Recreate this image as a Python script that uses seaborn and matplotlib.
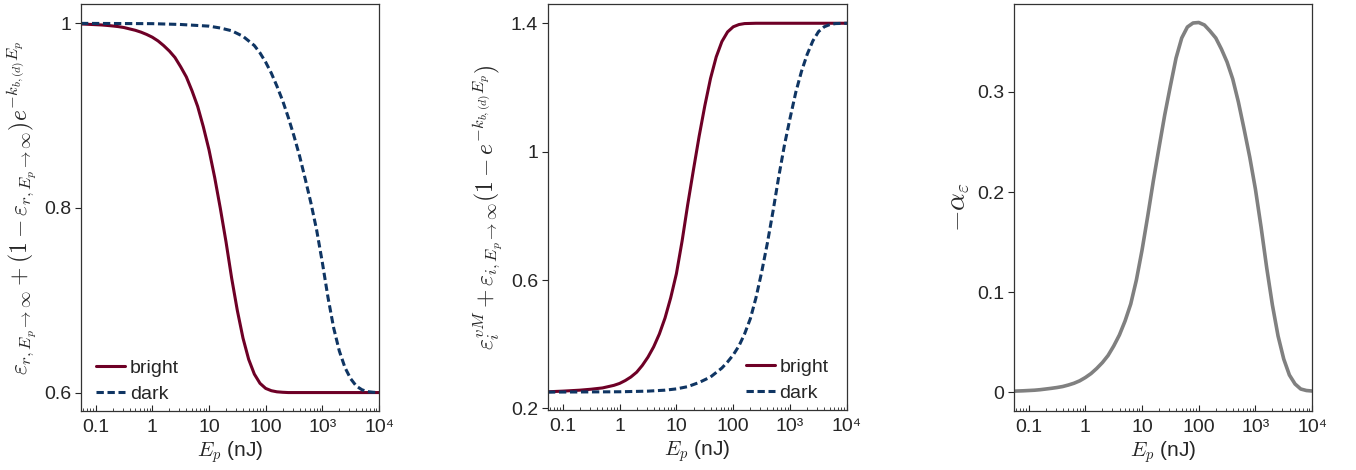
import matplotlib
matplotlib.use("Agg")
import matplotlib.pyplot as plt
import matplotlib.ticker as mticker
import seaborn as sns

sns.set_style("ticks")
plt.rcParams["font.family"] = ["Liberation Sans", "DejaVu Sans"]
plt.rcParams["mathtext.fontset"] = "cm"

# energies (nJ) and values
# left panel: reflectance term
e_r_bright = [0.055, 0.063, 0.079, 0.1, 0.126, 0.158, 0.2, 0.251, 0.316, 0.398, 0.501, 0.631,
              0.794, 1, 1.26, 1.58, 2, 2.51, 3.16, 3.98, 5.01, 6.31, 7.94, 10, 12.6, 15.8, 20,
              25.1, 31.6, 39.8, 50.1, 63.1, 79.4, 100, 126, 158, 200, 251, 10000]
r_bright = [0.9993, 0.9992, 0.9989, 0.9986, 0.9983, 0.9978, 0.9972, 0.9965, 0.9955, 0.994,
            0.9925, 0.9905, 0.988, 0.985, 0.981, 0.976, 0.970, 0.963, 0.953, 0.942, 0.927,
            0.910, 0.888, 0.863, 0.833, 0.800, 0.763, 0.724, 0.689, 0.659, 0.636, 0.620,
            0.610, 0.6045, 0.602, 0.6008, 0.6003, 0.6, 0.6]
e_r_dark = [0.055, 1, 3.16, 10, 15.8, 25.1, 39.8, 63.1, 79.4, 100, 126, 158, 200, 251, 316,
            398, 501, 631, 794, 1000, 1259, 1585, 1995, 2512, 3162, 3981, 5012, 6310, 7943,
            10000]
r_dark = [1.0, 0.9997, 0.9988, 0.997, 0.995, 0.992, 0.986, 0.976, 0.968, 0.958, 0.946, 0.932,
          0.916, 0.898, 0.878, 0.856, 0.831, 0.805, 0.776, 0.741, 0.703, 0.670, 0.645, 0.627,
          0.615, 0.607, 0.603, 0.601, 0.6003, 0.6]

# middle panel: absorption term
e_i_bright = [0.055, 0.1, 0.2, 0.316, 0.501, 0.794, 1, 1.26, 1.58, 2, 2.51, 3.16, 3.98, 5.01,
              6.31, 7.94, 10, 12.6, 15.8, 20, 25.1, 31.6, 39.8, 50.1, 63.1, 79.4, 100, 126,
              158, 251, 10000]
i_bright = [0.252, 0.254, 0.257, 0.26, 0.264, 0.272, 0.278, 0.287, 0.298, 0.313, 0.334, 0.36,
            0.392, 0.432, 0.482, 0.545, 0.62, 0.722, 0.835, 0.945, 1.048, 1.143, 1.228, 1.295,
            1.343, 1.373, 1.389, 1.396, 1.399, 1.4, 1.4]
e_i_dark = [0.055, 1, 3.16, 6.31, 10, 15.8, 25.1, 39.8, 63.1, 79.4, 100, 126, 158, 200, 251,
            316, 398, 501, 631, 794, 1000, 1259, 1585, 1995, 2512, 3162, 3981, 5012, 6310,
            10000]
i_dark = [0.251, 0.252, 0.254, 0.257, 0.261, 0.268, 0.281, 0.298, 0.326, 0.345, 0.367, 0.395,
          0.432, 0.48, 0.545, 0.625, 0.715, 0.815, 0.922, 1.02, 1.105, 1.185, 1.25, 1.303,
          1.345, 1.374, 1.389, 1.396, 1.399, 1.4]

# right panel: -alpha_eps
e_alpha = [0.055, 0.063, 0.079, 0.1, 0.126, 0.158, 0.2, 0.251, 0.316, 0.398, 0.501, 0.631,
           0.794, 1, 1.26, 1.58, 2, 2.51, 3.16, 3.98, 5.01, 6.31, 7.94, 10, 12.6, 15.8, 20,
           25.1, 31.6, 39.8, 50.1, 63.1, 79.4, 100, 126, 158, 200, 251, 316, 398, 501, 631,
           794, 1000, 1259, 1585, 1995, 2512, 3162, 3981, 5012, 6310, 7943, 10000]
neg_alpha = [0.0008, 0.001, 0.0012, 0.0015, 0.0018, 0.0023, 0.003, 0.0037, 0.0045, 0.0055,
             0.007, 0.0088, 0.0112, 0.0145, 0.0185, 0.0235, 0.0295, 0.0365, 0.046, 0.057,
             0.071, 0.088, 0.112, 0.142, 0.176, 0.211, 0.245, 0.277, 0.306, 0.334, 0.354,
             0.365, 0.369, 0.3695, 0.367, 0.361, 0.354, 0.343, 0.33, 0.313, 0.29, 0.263,
             0.235, 0.203, 0.165, 0.124, 0.087, 0.056, 0.033, 0.017, 0.008, 0.003, 0.0015,
             0.001]

x_ticks = [0.1, 1, 10, 100, 1000, 10000]
x_ticklabels = ["0.1", "1", "10", "100", "10\u00b3", "10\u2074"]

c_bright = "#6e0026"
c_dark = "#0f3563"
c_gray = "#808080"
dash = (0, (2.4, 1.2))
fs = 14

fig = plt.figure(figsize=(13.56, 4.70), dpi=100)
ax1 = fig.add_axes([0.0597, 0.1255, 0.2198, 0.866])
ax2 = fig.add_axes([0.4041, 0.1275, 0.2205, 0.864])
ax3 = fig.add_axes([0.7478, 0.1255, 0.2198, 0.866])

leg_kw = dict(frameon=False, fontsize=fs, handlelength=1.5, handletextpad=0.22,
              borderaxespad=0.0, labelspacing=0.45)

sns.lineplot(x=e_r_bright, y=r_bright, ax=ax1, color=c_bright, lw=2.2, label="bright")
sns.lineplot(x=e_r_dark, y=r_dark, ax=ax1, color=c_dark, lw=2.2, linestyle=dash, label="dark")
ax1.set_ylim(0.58, 1.021)
ax1.set_yticks([0.6, 0.8, 1.0])
ax1.set_ylabel(r"$\varepsilon_{r,E_p\to\infty}+(1-\varepsilon_{r,E_p\to\infty})e^{-k_{b,(d)}E_p}$",
               fontsize=17, labelpad=4)
ax1.legend(loc="lower left", bbox_to_anchor=(0.025, 0.0), **leg_kw)

sns.lineplot(x=e_i_bright, y=i_bright, ax=ax2, color=c_bright, lw=2.2, label="bright")
sns.lineplot(x=e_i_dark, y=i_dark, ax=ax2, color=c_dark, lw=2.2, linestyle=dash, label="dark")
ax2.set_ylim(0.195, 1.46)
ax2.set_yticks([0.2, 0.6, 1.0, 1.4])
ax2.set_ylabel(r"$\varepsilon_i^{vM}+\varepsilon_{i,E_p\to\infty}(1-e^{-k_{b,(d)}E_p})$",
               fontsize=17, labelpad=4)
ax2.legend(loc="lower right", bbox_to_anchor=(0.965, 0.0), **leg_kw)

sns.lineplot(x=e_alpha, y=neg_alpha, ax=ax3, color=c_gray, lw=2.6)
ax3.set_ylim(-0.019, 0.388)
ax3.set_yticks([0, 0.1, 0.2, 0.3])
ax3.set_ylabel(r"$-\alpha_\varepsilon$", fontsize=20, labelpad=4)

for ax in (ax1, ax2, ax3):
    ax.set_xscale("log")
    ax.set_xlim(0.055, 10000)
    ax.set_xticks(x_ticks)
    ax.set_xticklabels(x_ticklabels)
    ax.xaxis.set_minor_locator(mticker.LogLocator(base=10, subs=range(2, 10), numticks=20))
    ax.xaxis.set_minor_formatter(mticker.NullFormatter())
    ax.yaxis.set_major_formatter(mticker.FuncFormatter(lambda v, p: f"{v:g}"))
    ax.tick_params(axis="x", which="major", direction="in", length=4, width=0.8,
                   labelsize=fs, pad=6, top=False)
    ax.tick_params(axis="x", which="minor", direction="in", length=2.5, width=0.6, top=False)
    ax.tick_params(axis="y", which="major", direction="out", length=4, width=0.8,
                   labelsize=fs, pad=3)
    ax.set_xlabel(r"$E_p$ (nJ)", fontsize=15, labelpad=2)
    for s in ax.spines.values():
        s.set_visible(True)
        s.set_linewidth(0.9)
        s.set_color("#333333")

fig.savefig("out.png", dpi=100)
